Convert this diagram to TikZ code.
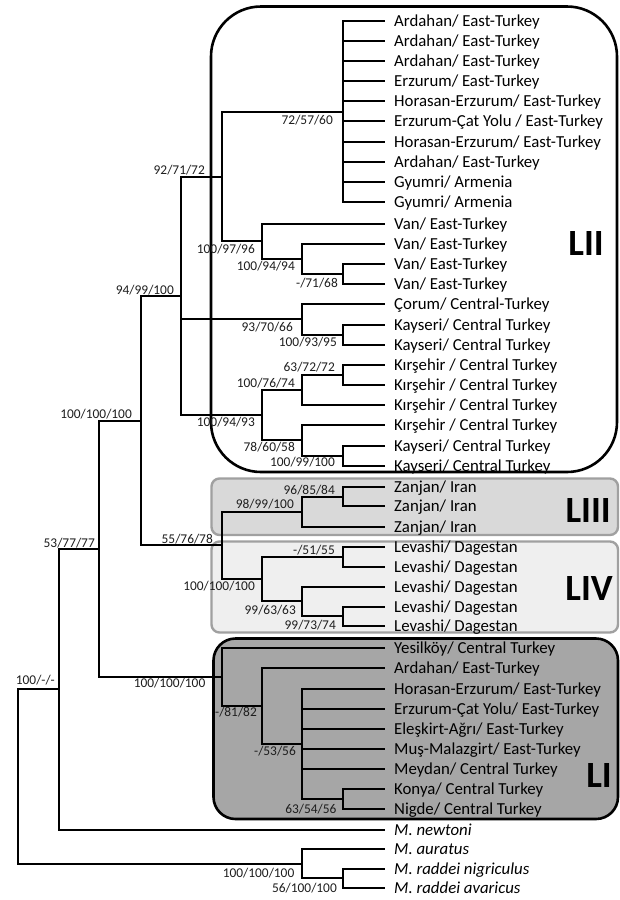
\documentclass[tikz,border=0pt]{standalone}
\usepackage{fontspec}
\setmainfont{Carlito}
\definecolor{boxIII}{HTML}{D9D9D9}
\definecolor{boxIV}{HTML}{EFEFEF}
\definecolor{boxI}{HTML}{A6A6A6}
\definecolor{boxedge}{HTML}{A0A0A0}
\definecolor{suptext}{HTML}{1E1E1E}
\tikzset{
  branch/.style={line width=2pt},
  tip/.style={anchor=base west, inner sep=0pt, font=\fontsize{16.8}{18}\selectfont},
  tipit/.style={tip, font=\fontsize{16.8}{18}\selectfont\itshape},
  sup/.style={anchor=base east, inner sep=0pt, font=\fontsize{13.4}{15}\selectfont, text=suptext},
  cladelab/.style={anchor=base east, inner sep=0pt, font=\fontsize{37}{40}\selectfont\bfseries},
}
\newcommand\leafnode[4][tip]{\coordinate (l#2) at (385,#3); \node[#1] (t#2) at (394,#3+5.7) {#4};}
\newcommand\suplab[4]{\node[sup] (s#1) at (#2,#3+4.3) {#4};}
\begin{document}
\begin{tikzpicture}[x=1pt,y=-1pt]
\useasboundingbox (0,0) rectangle (620,900);
% clade boxes
\draw[line width=2.6pt, rounded corners=50pt, fill=white] (211,6.5) rectangle (617,472);
\draw[line width=2.4pt, draw=boxedge, fill=boxIII, rounded corners=8pt] (211.5,478.5) rectangle (618,535);
\draw[line width=2.4pt, draw=boxedge, fill=boxIV, rounded corners=8pt] (211.5,541.5) rectangle (618,632.5);
\draw[line width=2.6pt, fill=boxI, rounded corners=22pt] (213.5,638.5) rectangle (618,819);
% leaves
\leafnode{1}{21}{Ardahan/ East-Turkey}
\leafnode{2}{41}{Ardahan/ East-Turkey}
\leafnode{3}{61}{Ardahan/ East-Turkey}
\leafnode{4}{81}{Erzurum/ East-Turkey}
\leafnode{5}{101}{Horasan-Erzurum/ East-Turkey}
\leafnode{6}{121}{Erzurum-Çat Yolu / East-Turkey}
\leafnode{7}{142}{Horasan-Erzurum/ East-Turkey}
\leafnode{8}{162}{Ardahan/ East-Turkey}
\leafnode{9}{182}{Gyumri/ Armenia}
\leafnode{10}{202}{Gyumri/ Armenia}
\leafnode{11}{224}{Van/ East-Turkey}
\leafnode{12}{244}{Van/ East-Turkey}
\leafnode{13}{264}{Van/ East-Turkey}
\leafnode{14}{284}{Van/ East-Turkey}
\leafnode{15}{304}{Çorum/ Central-Turkey}
\leafnode{16}{325}{Kayseri/ Central Turkey}
\leafnode{17}{345}{Kayseri/ Central Turkey}
\leafnode{18}{365}{Kırşehir / Central Turkey}
\leafnode{19}{385}{Kırşehir / Central Turkey}
\leafnode{20}{405}{Kırşehir / Central Turkey}
\leafnode{21}{425}{Kırşehir / Central Turkey}
\leafnode{22}{446}{Kayseri/ Central Turkey}
\leafnode{23}{466}{Kayseri/ Central Turkey}
\leafnode{24}{487}{Zanjan/ Iran}
\leafnode{25}{506}{Zanjan/ Iran}
\leafnode{26}{527}{Zanjan/ Iran}
\leafnode{27}{547}{Levashi/ Dagestan}
\leafnode{28}{567}{Levashi/ Dagestan}
\leafnode{29}{587}{Levashi/ Dagestan}
\leafnode{30}{607}{Levashi/ Dagestan}
\leafnode{31}{626}{Levashi/ Dagestan}
\leafnode{32}{648}{Yesilköy/ Central Turkey}
\leafnode{33}{668}{Ardahan/ East-Turkey}
\leafnode{34}{689}{Horasan-Erzurum/ East-Turkey}
\leafnode{35}{709}{Erzurum-Çat Yolu/ East-Turkey}
\leafnode{36}{729}{Eleşkirt-Ağrı/ East-Turkey}
\leafnode{37}{749}{Muş-Malazgirt/ East-Turkey}
\leafnode{38}{769}{Meydan/ Central Turkey}
\leafnode{39}{789}{Konya/ Central Turkey}
\leafnode{40}{809}{Nigde/ Central Turkey}
\leafnode[tipit]{41}{830}{M. newtoni}
\leafnode[tipit]{42}{849}{M. auratus}
\leafnode[tipit]{43}{869}{M. raddei nigriculus}
\leafnode[tipit]{44}{888}{M. raddei avaricus}
% internal nodes
\coordinate (nA) at (343,112);
\coordinate (nE) at (343,274);
\coordinate (nD) at (302,259);
\coordinate (nC) at (262,241);
\coordinate (nB) at (222,177);
\coordinate (nKyA) at (343,335);
\coordinate (nCo) at (302,319);
\coordinate (nKA) at (343,375);
\coordinate (nKB) at (302,390);
\coordinate (nKyB) at (343,456);
\coordinate (nKC) at (302,440);
\coordinate (nKD) at (262,415);
\coordinate (nF) at (181,296);
\coordinate (nZA) at (343,497);
\coordinate (nZB) at (302,512);
\coordinate (nLA) at (343,557);
\coordinate (nLB) at (343,616);
\coordinate (nLC) at (302,601);
\coordinate (nLD) at (262,579);
\coordinate (nH) at (222,545);
\coordinate (nG) at (141,421);
\coordinate (nO) at (343,799);
\coordinate (nN) at (302,744);
\coordinate (nM) at (262,706);
\coordinate (nL) at (222,677);
\coordinate (nJ) at (99,549);
\coordinate (nI) at (59,689);
\coordinate (nP) at (343,878);
\coordinate (nK) at (302,864);
\coordinate (nR) at (18,776);
% branches
\foreach \c in {l1,l2,l3,l4,l5,l6,l7,l8,l9,l10} \draw[branch] (nA) |- (\c);
\draw[branch] (nE) |- (l13); \draw[branch] (nE) |- (l14);
\draw[branch] (nD) |- (l12); \draw[branch] (nD) |- (nE);
\draw[branch] (nC) |- (l11); \draw[branch] (nC) |- (nD);
\draw[branch] (nB) |- (nA); \draw[branch] (nB) |- (nC);
\draw[branch] (nKyA) |- (l16); \draw[branch] (nKyA) |- (l17);
\draw[branch] (nCo) |- (l15); \draw[branch] (nCo) |- (nKyA);
\draw[branch] (nKA) |- (l18); \draw[branch] (nKA) |- (l19);
\draw[branch] (nKB) |- (nKA); \draw[branch] (nKB) |- (l20);
\draw[branch] (nKyB) |- (l22); \draw[branch] (nKyB) |- (l23);
\draw[branch] (nKC) |- (l21); \draw[branch] (nKC) |- (nKyB);
\draw[branch] (nKD) |- (nKB); \draw[branch] (nKD) |- (nKC);
\draw[branch] (nF) |- (nB); \draw[branch] (nF) |- (nCo); \draw[branch] (nF) |- (nKD);
\draw[branch] (nZA) |- (l24); \draw[branch] (nZA) |- (l25);
\draw[branch] (nZB) |- (nZA); \draw[branch] (nZB) |- (l26);
\draw[branch] (nLA) |- (l27); \draw[branch] (nLA) |- (l28);
\draw[branch] (nLB) |- (l30); \draw[branch] (nLB) |- (l31);
\draw[branch] (nLC) |- (l29); \draw[branch] (nLC) |- (nLB);
\draw[branch] (nLD) |- (nLA); \draw[branch] (nLD) |- (nLC);
\draw[branch] (nH) |- (nZB); \draw[branch] (nH) |- (nLD);
\draw[branch] (nG) |- (nF); \draw[branch] (nG) |- (nH);
\draw[branch] (nO) |- (l39); \draw[branch] (nO) |- (l40);
\foreach \c in {l34,l35,l36,l37,l38,nO} \draw[branch] (nN) |- (\c);
\draw[branch] (nM) |- (l33); \draw[branch] (nM) |- (nN);
\draw[branch] (nL) |- (l32); \draw[branch] (nL) |- (nM);
\draw[branch] (nJ) |- (nG); \draw[branch] (nJ) |- (nL);
\draw[branch] (nI) |- (nJ); \draw[branch] (nI) |- (l41);
\draw[branch] (nP) |- (l43); \draw[branch] (nP) |- (l44);
\draw[branch] (nK) |- (l42); \draw[branch] (nK) |- (nP);
\draw[branch] (nR) |- (nI); \draw[branch] (nR) |- (nK);
% support values
\suplab{A}{333}{120}{72/57/60}
\suplab{B}{205}{170}{92/71/72}
\suplab{C}{255}{249}{100/97/96}
\suplab{D}{295}{266}{100/94/94}
\suplab{E}{338}{283}{-/71/68}
\suplab{F}{174}{290}{94/99/100}
\suplab{Co}{293}{327}{93/70/66}
\suplab{KyA}{337}{342}{100/93/95}
\suplab{KD}{255}{421.7}{100/94/93}
\suplab{KB}{295}{383.3}{100/76/74}
\suplab{KA}{335}{366.7}{63/72/72}
\suplab{KC}{295}{447}{78/60/58}
\suplab{KyB}{335}{461.7}{100/99/100}
\suplab{G}{132}{414}{100/100/100}
\suplab{H}{213}{539}{55/76/78}
\suplab{ZB}{294}{504.4}{98/99/100}
\suplab{ZA}{335}{490}{96/85/84}
\suplab{LD}{255}{586}{100/100/100}
\suplab{LA}{335}{550}{-/51/55}
\suplab{LC}{296}{610}{99/63/63}
\suplab{LB}{336}{625}{99/73/74}
\suplab{J}{95}{542.7}{53/77/77}
\suplab{L}{205.5}{683.3}{100/100/100}
\suplab{M}{257}{711.7}{-/81/82}
\suplab{N}{296}{750.7}{-/53/56}
\suplab{O}{336.7}{809}{63/54/56}
\suplab{I}{55}{680}{100/-/-}
\suplab{K}{294.5}{872.7}{100/100/100}
\suplab{P}{337}{888}{56/100/100}
% clade labels
\node[cladelab] (cLII) at (604,255) {LII};
\node[cladelab] (cLIII) at (611,522) {LIII};
\node[cladelab] (cLIV) at (613,600) {LIV};
\node[cladelab] (cLI) at (612,787) {LI};
\end{tikzpicture}
\end{document}
